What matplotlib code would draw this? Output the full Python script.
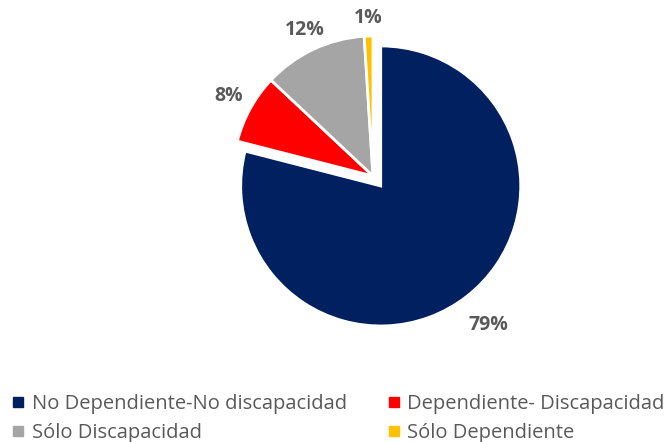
import matplotlib.pyplot as plt
import matplotlib.lines as mlines
import numpy as np

categorias = ['No Dependiente-No discapacidad', 'Dependiente- Discapacidad',
              'Sólo Discapacidad', 'Sólo Dependiente']
valores = [79, 8, 12, 1]
colores = ['#002060', '#FF0000', '#A5A5A5', '#FFC000']
etiquetas = ['79%', '8%', '12%', '1%']
distancias = [1.26, 1.18, 1.15, 1.13]

plt.rcParams['font.family'] = ['Open Sans', 'DejaVu Sans']

fig = plt.figure(figsize=(6.65, 4.42), dpi=100)
ax = fig.add_axes([0, 0, 1, 1])

wedges, _ = ax.pie(valores, colors=colores, startangle=90, counterclock=False,
                   explode=[0.09, 0, 0, 0], radius=1.0,
                   wedgeprops=dict(edgecolor='white', linewidth=2))

for w, lab, d in zip(wedges, etiquetas, distancias):
    ang = np.deg2rad((w.theta1 + w.theta2) / 2)
    cx, cy = w.center
    ax.text(cx + d * np.cos(ang), cy + d * np.sin(ang), lab, ha='center', va='center',
            fontsize=14, fontweight='bold', color='#595959')

r = 140.0
ax.set_xlim(-373 / r, (665 - 373) / r)
ax.set_ylim((176 - 442) / r, 176 / r)
ax.axis('off')

handles = [mlines.Line2D([], [], marker='s', linestyle='none', markersize=7,
                         markerfacecolor=c, markeredgecolor=c) for c in colores]
orden = [0, 2, 1, 3]  # legend filled column by column, so reorder to read row by row
fig.legend([handles[i] for i in orden], [categorias[i] for i in orden], ncol=2,
           loc='upper left', bbox_to_anchor=(0.005, 0.127),
           frameon=False, fontsize=14.5, labelcolor='#595959', handlelength=0.7,
           handletextpad=0.3, columnspacing=2.0, labelspacing=0.45, borderaxespad=0)

fig.savefig('out.png', dpi=100)
